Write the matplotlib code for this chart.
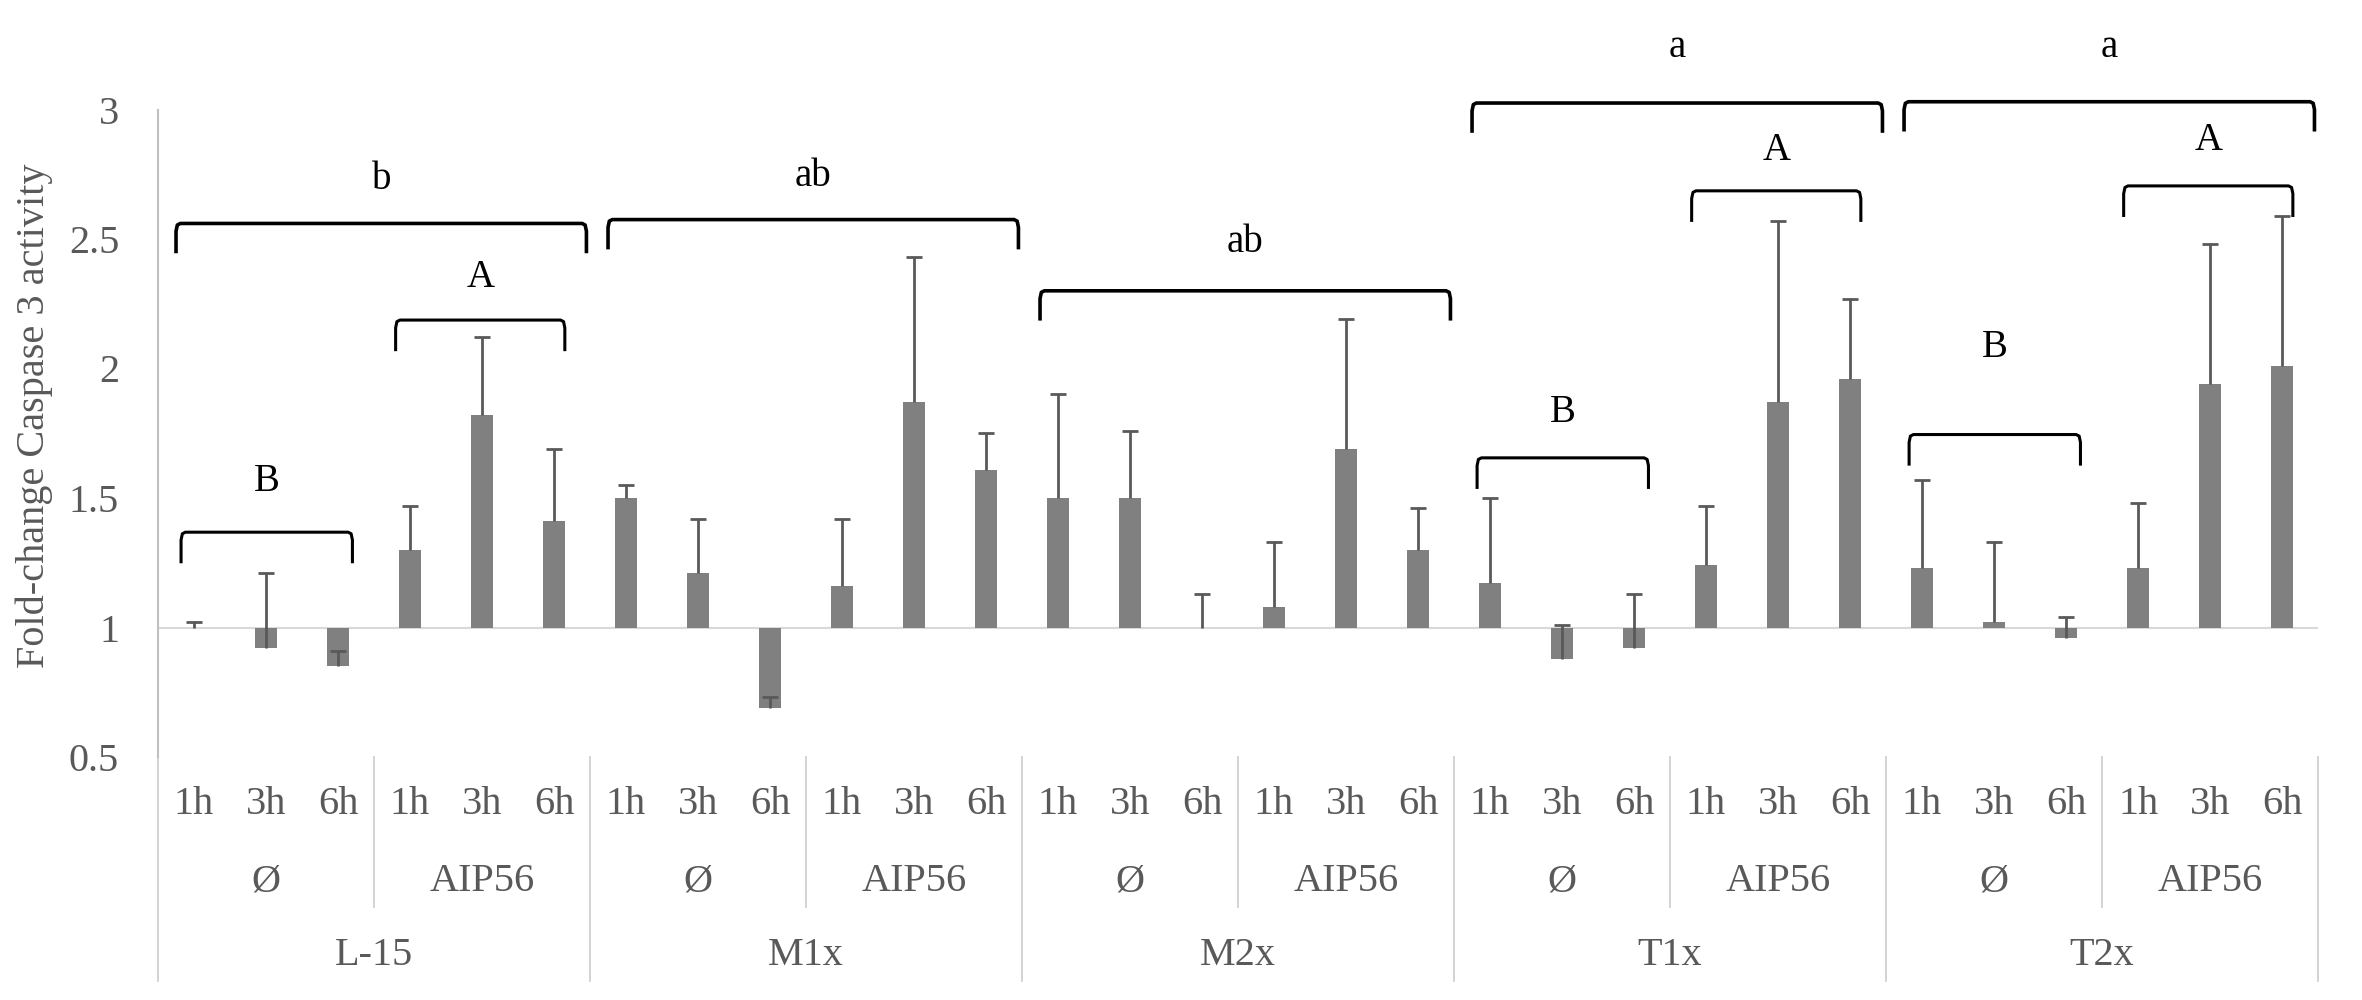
import numpy as np
import matplotlib.pyplot as plt
from matplotlib.lines import Line2D

# cell lines, treatments and time points
groups = ["L-15", "M1x", "M2x", "T1x", "T2x"]
treatments = ["\u00d8", "AIP56"]
times = ["1h", "3h", "6h"]

# fold-change caspase 3 activity (bar tops) and upper error
values = [1.00, 0.92, 0.85, 1.30, 1.82, 1.41,
          1.50, 1.21, 0.69, 1.16, 1.87, 1.61,
          1.50, 1.50, 1.00, 1.08, 1.69, 1.30,
          1.17, 0.88, 0.92, 1.24, 1.87, 1.96,
          1.23, 1.02, 0.96, 1.23, 1.94, 2.01]
errors = [0.02, 0.29, 0.06, 0.17, 0.30, 0.28,
          0.05, 0.21, 0.04, 0.26, 0.56, 0.14,
          0.40, 0.26, 0.13, 0.25, 0.50, 0.16,
          0.33, 0.13, 0.21, 0.23, 0.70, 0.31,
          0.34, 0.31, 0.08, 0.25, 0.54, 0.58]

# significance brackets: letters per cell line and per treatment subgroup
group_letters = ["b", "ab", "ab", "a", "a"]
group_bracket_y = [2.56, 2.575, 2.30, 3.025, 3.03]
group_text_y = [2.73, 2.74, 2.485, 3.24, 3.24]
# (label, group index, subgroup, bracket height, text height)
sub_letters = [("B", 0, 0, 1.368, 1.565), ("A", 0, 1, 2.187, 2.35),
               ("B", 3, 0, 1.655, 1.83), ("A", 3, 1, 2.686, 2.84),
               ("B", 4, 0, 1.745, 2.08), ("A", 4, 1, 2.705, 2.88)]

serif = "Liberation Serif"
grey_txt = "#595959"
fs = 29

fig = plt.figure(figsize=(23.62, 10), dpi=100)
ax = fig.add_axes([0.0669, 0.243, 0.9145, 0.6475])

x = np.arange(len(values))
vals = np.array(values)
ax.bar(x, vals - 1, bottom=1, width=0.3, color="#808080", zorder=2)
eb = ax.errorbar(x, vals, yerr=[np.zeros(len(errors)), errors], fmt="none",
                 ecolor="#595959", elinewidth=2, capsize=6, capthick=2,
                 zorder=3)
eb[1][0].set_visible(False)  # no cap at the bar end
ax.axhline(1, color="#d9d9d9", lw=1.5, zorder=1)

ax.set_xlim(-0.5, len(values) - 0.5)
ax.set_ylim(0.5, 3)
ax.set_yticks([0.5, 1, 1.5, 2, 2.5, 3])
ax.set_yticklabels(["0.5", "1", "1.5", "2", "2.5", "3"])
ax.tick_params(axis="y", length=0, pad=28, labelsize=fs, labelcolor=grey_txt)
for lab in ax.get_yticklabels():
    lab.set_fontfamily(serif)
ax.set_xticks([])
for s in ["top", "right", "bottom"]:
    ax.spines[s].set_visible(False)
ax.spines["left"].set_color("#bfbfbf")
ax.spines["left"].set_linewidth(1.5)

fig.text(0.0145, 0.584, "Fold-change Caspase 3 activity", rotation=90,
         ha="center", va="center", fontsize=fs, color=grey_txt, family=serif)

# multi-level category axis
tr = ax.get_xaxis_transform()
sep_col = "#d0d0d0"
for i, t in enumerate(x):
    ax.text(t, -0.074, times[i % 3], transform=tr, ha="center", va="center",
            fontsize=fs, color=grey_txt, family=serif)
for k in range(len(groups) * 2):
    ax.text(3 * k + 1, -0.193, treatments[k % 2], transform=tr, ha="center",
            va="center", fontsize=fs, color=grey_txt, family=serif)
    if k % 2 == 1:
        ax.add_line(Line2D([3 * k - 0.5] * 2, [0, -0.232], transform=tr,
                           color=sep_col, lw=1.3, clip_on=False))
for g, name in enumerate(groups):
    ax.text(6 * g + 2.5, -0.306, name, transform=tr, ha="center",
            va="center", fontsize=fs, color=grey_txt, family=serif)
for g in range(len(groups) + 1):
    ax.add_line(Line2D([6 * g - 0.5] * 2, [0, -0.346], transform=tr,
                       color=sep_col, lw=1.3, clip_on=False))


def bracket(x0, x1, ytop, drop, lw):
    r = 0.06
    xs = [x0, x0, x0 + r * 0.3, x0 + r, x1 - r, x1 - r * 0.3, x1, x1]
    ys = [ytop - drop, ytop - 0.03, ytop - 0.006, ytop, ytop, ytop - 0.006,
          ytop - 0.03, ytop - drop]
    ax.plot(xs, ys, color="black", lw=lw, clip_on=False, zorder=4,
            solid_capstyle="butt")


for g, lab in enumerate(group_letters):
    x0, x1 = 6 * g - 0.25, 6 * g + 5.45
    bracket(x0, x1, group_bracket_y[g], 0.115, 2.6)
    ax.text((x0 + x1) / 2, group_text_y[g], lab, ha="center", va="center",
            fontsize=28, color="black", family=serif, clip_on=False)

for lab, g, sub, ytop, ytxt in sub_letters:
    if sub == 0:
        x0, x1 = 6 * g - 0.18, 6 * g + 2.2
    else:
        x0, x1 = 6 * g + 2.8, 6 * g + 5.15
    bracket(x0, x1, ytop, 0.12, 2.2)
    ax.text((x0 + x1) / 2, ytxt, lab, ha="center", va="center",
            fontsize=28, color="black", family=serif, clip_on=False)

fig.savefig("out.png", dpi=100)
